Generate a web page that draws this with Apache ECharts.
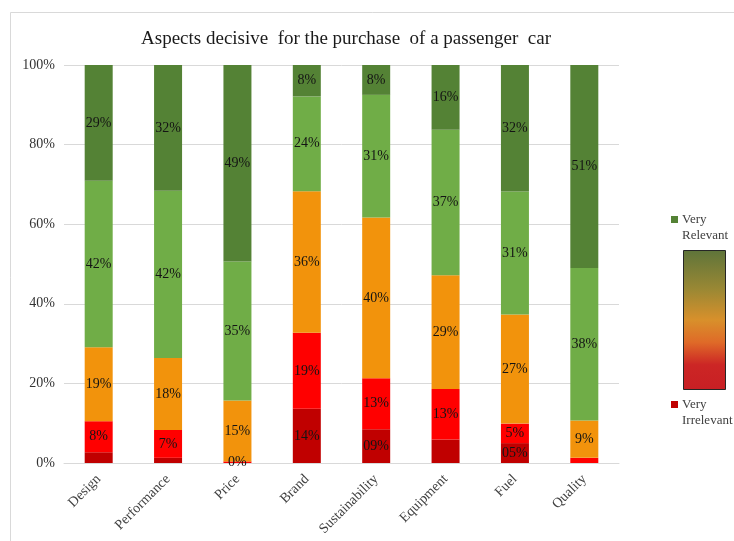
<!DOCTYPE html>
<html>
<head>
<meta charset="utf-8">
<script src="https://cdn.jsdelivr.net/npm/echarts@6/dist/echarts.min.js"></script>
<style>
  html, body { margin: 0; padding: 0; background: #ffffff; }
  #chart { width: 734px; height: 541px; }
</style>
</head>
<body>
<div id="chart"></div>
<script>
// Survey answers per aspect, share of respondents in percent (bottom to top of each bar)
const categories = ['Design', 'Performance', 'Price', 'Brand', 'Sustainability', 'Equipment', 'Fuel', 'Quality'];
const veryIrrelevant = [2.7, 1.3, 0, 13.6, 8.5, 5.9, 5.0, 0];
const irrelevant     = [7.8, 7.0, 0.4, 19.1, 12.8, 12.7, 4.9, 1.3];
const neutral        = [18.6, 18.1, 15.3, 35.6, 40.4, 28.6, 27.4, 9.4];
const relevant       = [41.8, 42.0, 34.9, 23.8, 30.8, 36.5, 30.9, 38.3];
const veryRelevant   = [29.1, 31.6, 49.4, 7.9, 7.5, 16.3, 31.8, 51.0];
const yTicks = [0, 20, 40, 60, 80, 100];

// Segments that carry no value label
const unlabeledVeryIrrelevant = ['Design', 'Performance', 'Equipment', 'Price', 'Quality'];
const unlabeledIrrelevant = ['Quality'];

const serif = "'Liberation Serif', 'Times New Roman', serif";
const labelStyle = {
  fontFamily: serif, fontSize: 14, color: '#141414',
  textBorderWidth: 0, textBorderColor: 'transparent', textShadowBlur: 0
};

function makeSeries(name, values, color, opts) {
  const hidden = opts.hidden || [];
  const pad = !!opts.pad;
  return {
    name: name,
    type: 'bar',
    stack: 'total',
    barWidth: 28,
    itemStyle: { color: color },
    label: Object.assign({
      show: true,
      position: 'inside',
      formatter: function (p) {
        let s = String(Math.round(p.value));
        if (pad && s.length < 2) s = '0' + s;
        return s + '%';
      }
    }, labelStyle),
    data: values.map(function (v, i) {
      const item = { value: v };
      if (hidden.includes(categories[i])) item.label = { show: false };
      return item;
    })
  };
}

const chart = echarts.init(document.getElementById('chart'), null, { renderer: 'canvas' });

const option = {
  backgroundColor: '#ffffff',
  animation: false,
  title: {
    text: 'Aspects decisive  for the purchase  of a passenger  car',
    left: 341,
    top: 25,
    textAlign: 'center',
    textStyle: { fontFamily: serif, fontSize: 19, fontWeight: 'normal', color: '#1a1a1a' }
  },
  grid: { left: 64, right: 115, top: 65, bottom: 78, containLabel: false },
  xAxis: {
    type: 'category',
    data: categories,
    axisTick: { show: false },
    axisLine: { lineStyle: { color: '#d9d9d9', width: 1 } },
    axisLabel: {
      rotate: 45,
      margin: 14,
      interval: 0,
      fontFamily: serif,
      fontSize: 14,
      color: '#404040'
    }
  },
  yAxis: {
    type: 'value',
    min: yTicks[0],
    max: yTicks[yTicks.length - 1],
    interval: yTicks[1] - yTicks[0],
    axisLine: { show: false },
    axisTick: { show: false },
    splitLine: { lineStyle: { color: '#d9d9d9', width: 1 } },
    axisLabel: {
      formatter: '{value}%',
      margin: 9,
      fontFamily: serif,
      fontSize: 14,
      color: '#333333'
    }
  },
  series: [
    makeSeries('Very Irrelevant', veryIrrelevant, '#C00000', { hidden: unlabeledVeryIrrelevant, pad: true }),
    makeSeries('Irrelevant', irrelevant, '#FF0000', { hidden: unlabeledIrrelevant }),
    makeSeries('Neutral', neutral, '#F2930C', {}),
    makeSeries('Relevant', relevant, '#70AD47', {}),
    makeSeries('Very Relevant', veryRelevant, '#548235', {})
  ],
  graphic: [
    // chart frame
    {
      type: 'rect', silent: true,
      shape: { x: 10.5, y: 12.5, width: 740, height: 540 },
      style: { fill: 'none', stroke: '#d9d9d9', lineWidth: 1 }
    },
    // colour scale legend
    {
      type: 'rect', silent: true,
      shape: { x: 671, y: 216, width: 7, height: 7 },
      style: { fill: '#548235' }
    },
    {
      type: 'text', silent: true, left: 682, top: 212,
      style: { text: 'Very\nRelevant', font: '13px ' + serif, fill: '#404040', lineHeight: 16 }
    },
    {
      type: 'rect', silent: true,
      shape: { x: 683.5, y: 250.5, width: 42, height: 139 },
      style: {
        stroke: '#262626', lineWidth: 1,
        fill: new echarts.graphic.LinearGradient(0, 0, 0, 1, [
          { offset: 0, color: '#5e743a' },
          { offset: 0.28, color: '#9a8834' },
          { offset: 0.5, color: '#d8902b' },
          { offset: 0.66, color: '#df6a28' },
          { offset: 0.82, color: '#cc2625' },
          { offset: 1, color: '#c81f24' }
        ])
      }
    },
    {
      type: 'rect', silent: true,
      shape: { x: 671, y: 401, width: 7, height: 7 },
      style: { fill: '#C00000' }
    },
    {
      type: 'text', silent: true, left: 682, top: 397,
      style: { text: 'Very\nIrrelevant', font: '13px ' + serif, fill: '#404040', lineHeight: 16 }
    }
  ]
};

chart.setOption(option);
</script>
</body>
</html>
